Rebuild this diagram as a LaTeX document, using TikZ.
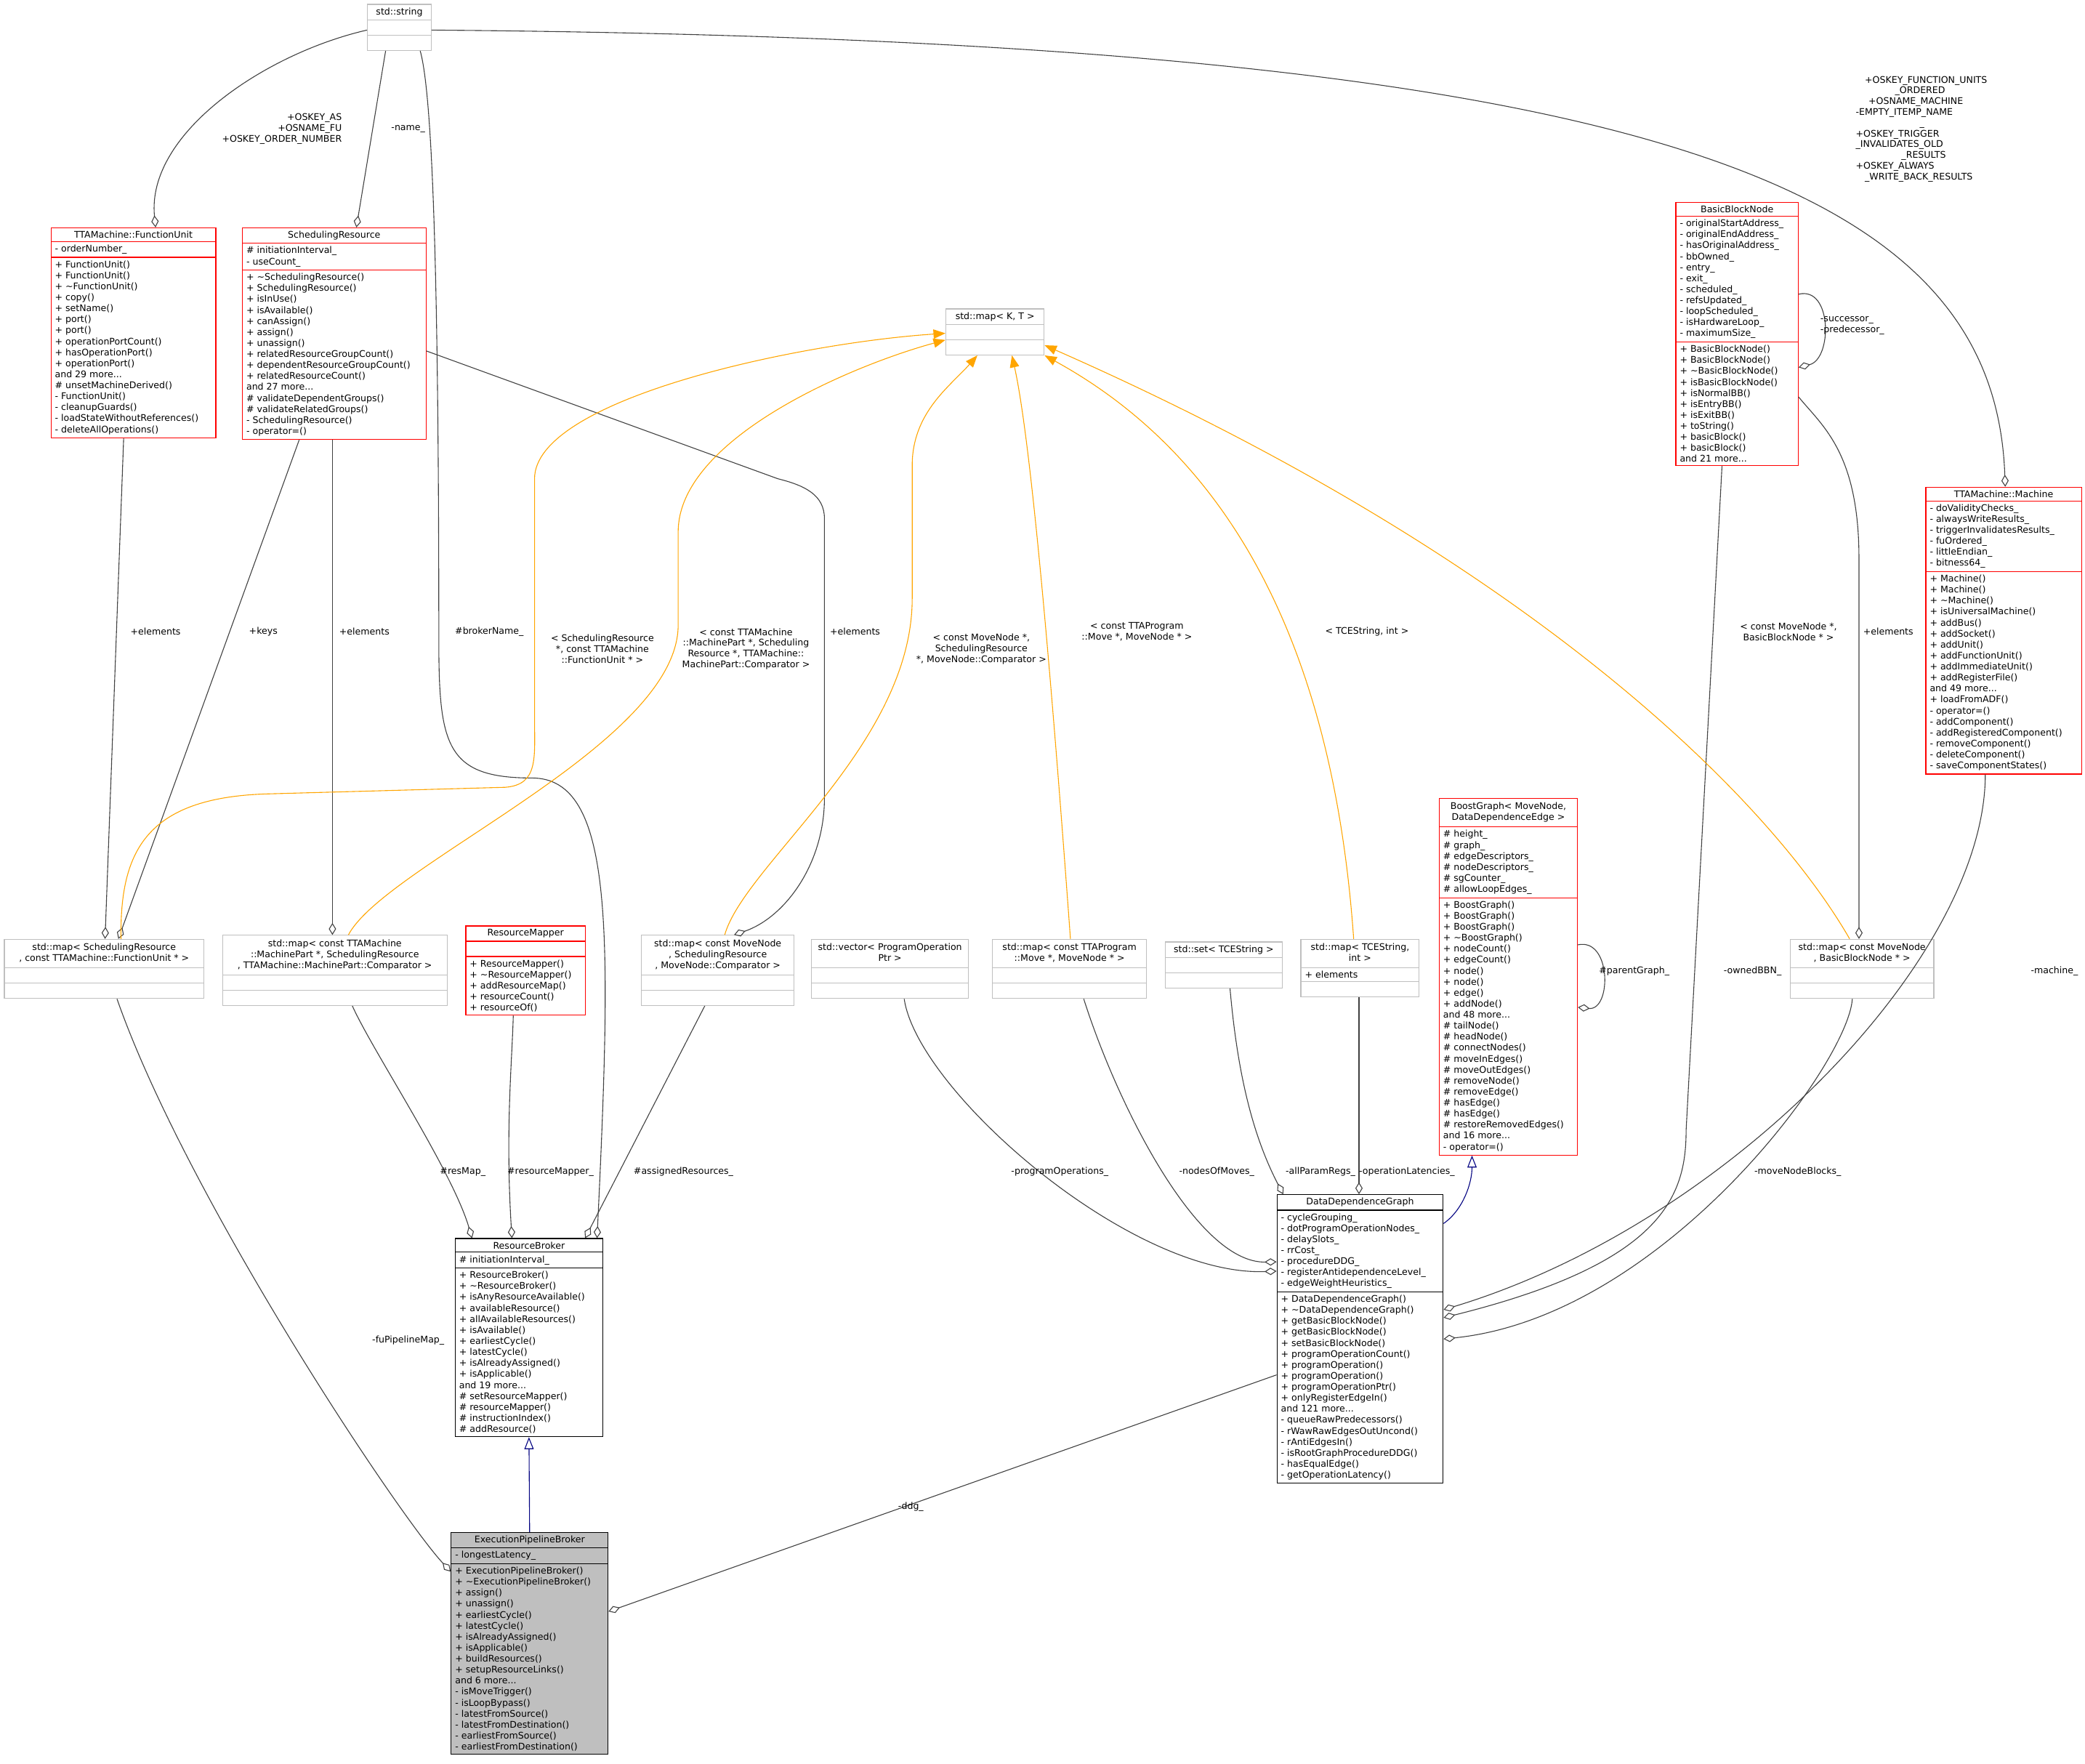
\documentclass[tikz,border=0pt]{standalone}
\usepackage{fontspec}
\setmainfont{DejaVu Sans}
\usetikzlibrary{shapes.multipart,arrows.meta,calc}

\definecolor{tplorange}{HTML}{FFA500}
\newcommand{\ttl}[1]{\begin{tabular}{@{}c@{}}#1\end{tabular}}
\newcommand{\nil}{\rule{0pt}{6.5bp}}

\tikzset{
  cls/.style={rectangle split, rectangle split parts=3, draw=black,
    rectangle split part align={center,left,left},
    font=\fontsize{6.9}{8.3}\selectfont, align=left,
    inner xsep=3bp, inner ysep=2.2bp, anchor=north west, line width=0.6bp},
  redcls/.style={cls, draw=red},
  graycls/.style={cls, draw=black!25},
  lbl/.style={font=\fontsize{6.9}{8.1}\selectfont, align=center, inner sep=0.5bp},
  agg/.style={draw=black!75, line width=0.6bp, {Diamond[open,length=9bp,width=5.5bp]}-},
  inh/.style={draw=blue!50!black, line width=0.6bp, -{Triangle[open,length=9bp,width=7bp]}},
  tpl/.style={draw=tplorange, line width=0.6bp, -{Triangle[length=9bp,width=7bp]}}
}

\begin{document}
\begin{tikzpicture}[x=1bp,y=-1bp]
\useasboundingbox (0,0) rectangle (1568,1326);

% classes
\node[graycls, minimum width=48bp] (str) at (276,3) {std::string \nodepart{two}\nil \nodepart{three}\nil};

\node[redcls, minimum width=124bp] (fu) at (38,171) {TTAMachine::FunctionUnit
 \nodepart{two}- orderNumber\_
 \nodepart{three}+ FunctionUnit()\\+ FunctionUnit()\\+ \textasciitilde FunctionUnit()\\+ copy()\\+ setName()\\+ port()\\+ port()\\+ operationPortCount()\\+ hasOperationPort()\\+ operationPort()\\and 29 more...\\\# unsetMachineDerived()\\- FunctionUnit()\\- cleanupGuards()\\- loadStateWithoutReferences()\\- deleteAllOperations()};

\node[redcls, minimum width=138bp] (sr) at (182,171) {SchedulingResource
 \nodepart{two}\# initiationInterval\_\\- useCount\_
 \nodepart{three}+ \textasciitilde SchedulingResource()\\+ SchedulingResource()\\+ isInUse()\\+ isAvailable()\\+ canAssign()\\+ assign()\\+ unassign()\\+ relatedResourceGroupCount()\\+ dependentResourceGroupCount()\\+ relatedResourceCount()\\and 27 more...\\\# validateDependentGroups()\\\# validateRelatedGroups()\\- SchedulingResource()\\- operator=()};

\node[graycls, minimum width=74bp] (mapkt) at (711,232) {std::map\textless{} K, T \textgreater{} \nodepart{two}\nil \nodepart{three}\nil};

\node[redcls, minimum width=92bp] (bbn) at (1260,152) {BasicBlockNode
 \nodepart{two}- originalStartAddress\_\\- originalEndAddress\_\\- hasOriginalAddress\_\\- bbOwned\_\\- entry\_\\- exit\_\\- scheduled\_\\- refsUpdated\_\\- loopScheduled\_\\- isHardwareLoop\_\\- maximumSize\_
 \nodepart{three}+ BasicBlockNode()\\+ BasicBlockNode()\\+ \textasciitilde BasicBlockNode()\\+ isBasicBlockNode()\\+ isNormalBB()\\+ isEntryBB()\\+ isExitBB()\\+ toString()\\+ basicBlock()\\+ basicBlock()\\and 21 more...};

\node[redcls, minimum width=117bp] (mach) at (1448,366) {TTAMachine::Machine
 \nodepart{two}- doValidityChecks\_\\- alwaysWriteResults\_\\- triggerInvalidatesResults\_\\- fuOrdered\_\\- littleEndian\_\\- bitness64\_
 \nodepart{three}+ Machine()\\+ Machine()\\+ \textasciitilde Machine()\\+ isUniversalMachine()\\+ addBus()\\+ addSocket()\\+ addUnit()\\+ addFunctionUnit()\\+ addImmediateUnit()\\+ addRegisterFile()\\and 49 more...\\+ loadFromADF()\\- operator=()\\- addComponent()\\- addRegisteredComponent()\\- removeComponent()\\- deleteComponent()\\- saveComponentStates()};

\node[redcls, minimum width=104bp] (bgr) at (1082,600) {\ttl{BoostGraph\textless{} MoveNode,\\ DataDependenceEdge \textgreater}
 \nodepart{two}\# height\_\\\# graph\_\\\# edgeDescriptors\_\\\# nodeDescriptors\_\\\# sgCounter\_\\\# allowLoopEdges\_
 \nodepart{three}+ BoostGraph()\\+ BoostGraph()\\+ BoostGraph()\\+ \textasciitilde BoostGraph()\\+ nodeCount()\\+ edgeCount()\\+ node()\\+ node()\\+ edge()\\+ addNode()\\and 48 more...\\\# tailNode()\\\# headNode()\\\# connectNodes()\\\# moveInEdges()\\\# moveOutEdges()\\\# removeNode()\\\# removeEdge()\\\# hasEdge()\\\# hasEdge()\\\# restoreRemovedEdges()\\and 16 more...\\- operator=()};

\node[graycls, minimum width=150bp] (mapsf) at (3,706) {\ttl{std::map\textless{} SchedulingResource\\ *, const TTAMachine::FunctionUnit * \textgreater}
 \nodepart{two}\nil \nodepart{three}\nil};
\node[graycls, minimum width=169bp] (mapmp) at (167,703) {\ttl{std::map\textless{} const TTAMachine\\ ::MachinePart *, SchedulingResource\\ *, TTAMachine::MachinePart::Comparator \textgreater}
 \nodepart{two}\nil \nodepart{three}\nil};
\node[redcls, minimum width=90bp] (rmap) at (350,696) {ResourceMapper
 \nodepart{two}\nil
 \nodepart{three}+ ResourceMapper()\\+ \textasciitilde ResourceMapper()\\+ addResourceMap()\\+ resourceCount()\\+ resourceOf()};
\node[graycls, minimum width=115bp] (mapms) at (482,703) {\ttl{std::map\textless{} const MoveNode\\ *, SchedulingResource\\ *, MoveNode::Comparator \textgreater}
 \nodepart{two}\nil \nodepart{three}\nil};
\node[graycls, minimum width=118bp] (vecpo) at (610,706) {\ttl{std::vector\textless{} ProgramOperation\\ Ptr \textgreater}
 \nodepart{two}\nil \nodepart{three}\nil};
\node[graycls, minimum width=116bp] (mapmv) at (746,706) {\ttl{std::map\textless{} const TTAProgram\\ ::Move *, MoveNode * \textgreater}
 \nodepart{two}\nil \nodepart{three}\nil};
\node[graycls, minimum width=88bp] (settc) at (876,708) {std::set\textless{} TCEString \textgreater
 \nodepart{two}\nil \nodepart{three}\nil};
\node[graycls, minimum width=89bp] (mapti) at (978,706) {\ttl{std::map\textless{} TCEString,\\ int \textgreater}
 \nodepart{two}+ elements \nodepart{three}\nil};
\node[graycls, minimum width=108bp] (mapmb) at (1346,706) {\ttl{std::map\textless{} const MoveNode\\ *, BasicBlockNode * \textgreater}
 \nodepart{two}\nil \nodepart{three}\nil};

\node[cls, minimum width=111bp] (rb) at (342,931) {ResourceBroker
 \nodepart{two}\# initiationInterval\_
 \nodepart{three}+ ResourceBroker()\\+ \textasciitilde ResourceBroker()\\+ isAnyResourceAvailable()\\+ availableResource()\\+ allAvailableResources()\\+ isAvailable()\\+ earliestCycle()\\+ latestCycle()\\+ isAlreadyAssigned()\\+ isApplicable()\\and 19 more...\\\# setResourceMapper()\\\# resourceMapper()\\\# instructionIndex()\\\# addResource()};

\node[cls, minimum width=125bp] (ddg) at (960,898) {DataDependenceGraph
 \nodepart{two}- cycleGrouping\_\\- dotProgramOperationNodes\_\\- delaySlots\_\\- rrCost\_\\- procedureDDG\_\\- registerAntidependenceLevel\_\\- edgeWeightHeuristics\_
 \nodepart{three}+ DataDependenceGraph()\\+ \textasciitilde DataDependenceGraph()\\+ getBasicBlockNode()\\+ getBasicBlockNode()\\+ setBasicBlockNode()\\+ programOperationCount()\\+ programOperation()\\+ programOperation()\\+ programOperationPtr()\\+ onlyRegisterEdgeIn()\\and 121 more...\\- queueRawPredecessors()\\- rWawRawEdgesOutUncond()\\- rAntiEdgesIn()\\- isRootGraphProcedureDDG()\\- hasEqualEdge()\\- getOperationLatency()};

\node[cls, fill=black!25, minimum width=118bp] (epb) at (339,1152) {ExecutionPipelineBroker
 \nodepart{two}- longestLatency\_
 \nodepart{three}+ ExecutionPipelineBroker()\\+ \textasciitilde ExecutionPipelineBroker()\\+ assign()\\+ unassign()\\+ earliestCycle()\\+ latestCycle()\\+ isAlreadyAssigned()\\+ isApplicable()\\+ buildResources()\\+ setupResourceLinks()\\and 6 more...\\- isMoveTrigger()\\- isLoopBypass()\\- latestFromSource()\\- latestFromDestination()\\- earliestFromSource()\\- earliestFromDestination()};

% members
\draw[agg] ($(fu.north west)+(79,0)$) .. controls (110,100) and (200,40) .. ($(str.west)+(0,2)$);
\draw[agg] ($(sr.north west)+(86,0)$) -- ($(str.south west)+(14,0)$);
\draw[agg] ($(rb.north west)+(107,0)$) .. controls (460,700) and (462,585) .. (400,585)
  .. controls (335,585) and (330,560) .. (330,480) .. controls (330,200) and (325,70) .. ($(str.south west)+(40,0)$);
\draw[agg] ($(mach.north west)+(60,0)$) .. controls (1500,140) and (1250,30) .. ($(str.east)+(0,2)$);
\draw[agg] ($(mapsf.north west)+(76,0)$) -- ($(fu.south west)+(55,0)$);
\draw[agg] ($(mapsf.north west)+(86,0)$) -- ($(sr.south west)+(43,0)$);
\draw[agg] ($(mapmp.north west)+(83,0)$) -- ($(sr.south west)+(68,0)$);
\draw[agg] ($(mapms.north west)+(70,0)$) .. controls (590,690) and (620,650) .. (620,600) -- (620,390)
  .. controls (620,372) and (605,365) .. (585,360) -- ($(sr.east)+(0,13)$);
\draw[agg] ($(epb.west)+(0,-54)$) .. controls (300,1140) and (140,900) .. ($(mapsf.south west)+(85,0)$);
\draw[agg] ($(rb.north west)+(13,0)$) .. controls (340,880) and (280,790) .. ($(mapmp.south west)+(98,0)$);
\draw[agg] ($(rb.north west)+(43,0)$) .. controls (380,850) and (385,800) .. ($(rmap.south west)+(36,0)$);
\draw[agg] ($(rb.north west)+(98,0)$) -- ($(mapms.south west)+(48,0)$);
\draw[agg] ($(epb.east)+(0,-24)$) -- ($(ddg.west)+(0,27)$);
\draw[agg] ($(ddg.west)+(0,-51)$) .. controls (850,960) and (690,820) .. ($(vecpo.south west)+(70,0)$);
\draw[agg] ($(ddg.west)+(0,-58)$) .. controls (900,950) and (840,830) .. ($(mapmv.south west)+(69,0)$);
\draw[agg] ($(ddg.north west)+(5,0)$) .. controls (940,850) and (930,800) .. ($(settc.south west)+(49,0)$);
\draw[agg] ($(ddg.north west)+(62,0)$) -- ($(mapti.south west)+(44,0)$);
\draw[agg] ($(bgr.east)+(0,23)$) .. controls (1212,760) and (1212,705) .. ($(bgr.east)+(0,-24)$);
\draw[agg] ($(ddg.east)+(0,-16)$) .. controls (1250,950) and (1268,900) .. (1268,850) -- ($(bbn.south west)+(35,0)$);
\draw[agg] ($(bbn.east)+(0,25)$) .. controls (1378,270) and (1378,215) .. ($(bbn.east)+(0,-30)$);
\draw[agg] ($(mapmb.north west)+(52,0)$) -- (1398,420) .. controls (1398,340) and (1370,320) .. ($(bbn.south east)+(0,-52)$);
\draw[agg] (ddg.east) .. controls (1250,990) and (1390,800) .. ($(mapmb.south west)+(47,0)$);
\draw[agg] ($(ddg.east)+(0,-22)$) .. controls (1300,920) and (1493,720) .. ($(mach.south west)+(45,0)$);

% inheritance
\draw[inh] (epb.north) -- (rb.south);
\draw[inh] ($(ddg.north east)+(0,22)$) .. controls (1100,910) and (1107,890) .. ($(bgr.south west)+(25,0)$);

% template instances
\draw[tpl] ($(mapsf.north west)+(88,0)$) .. controls (90,640) and (110,600) .. (200,597) -- (380,592)
  .. controls (405,590) and (402,570) .. (402,540) -- (402,360) .. controls (402,300) and (600,258) .. ($(mapkt.west)+(0,1)$);
\draw[tpl] ($(mapmp.north west)+(95,0)$) .. controls (290,650) and (510,560) .. (510,470) -- (510,400)
  .. controls (510,330) and (640,275) .. ($(mapkt.west)+(0,6)$);
\draw[tpl] ($(mapms.north west)+(63,0)$) .. controls (560,650) and (686,560) .. (686,450) -- (686,350)
  .. controls (686,310) and (715,290) .. ($(mapkt.south west)+(24,0)$);
\draw[tpl] ($(mapmv.north west)+(59,0)$) .. controls (790,500) and (775,330) .. ($(mapkt.south west)+(50,0)$);
\draw[tpl] ($(mapti.north west)+(40,0)$) .. controls (1000,450) and (900,330) .. (mapkt.south east);
\draw[tpl] ($(mapmb.north west)+(45,0)$) .. controls (1330,600) and (1150,420) .. ($(mapkt.east)+(0,10)$);

% labels
\node[lbl, align=right] (lfu) at (212,97) {+OSKEY\_AS\\+OSNAME\_FU\\+OSKEY\_ORDER\_NUMBER};
\node[lbl] (lname) at (307,97) {-name\_};
\node[lbl, align=left] (lmach) at (1445,97) {\quad+OSKEY\_FUNCTION\_UNITS\\\hspace{4.3em}\_ORDERED\\\hspace{1.4em}+OSNAME\_MACHINE\\-EMPTY\_ITEMP\_NAME\\\hspace{7em}\_\\+OSKEY\_TRIGGER\\\_INVALIDATES\_OLD\\\hspace{5em}\_RESULTS\\+OSKEY\_ALWAYS\\\quad\_WRITE\_BACK\_RESULTS};
\node[lbl] (lel1) at (117,475) {+elements};
\node[lbl] (lkeys) at (198,475) {+keys};
\node[lbl] (lel2) at (274,475) {+elements};
\node[lbl] (lbn) at (368,475) {\#brokerName\_};
\node[lbl] (lt1) at (453,488) {\textless{} SchedulingResource\\*, const TTAMachine\\::FunctionUnit * \textgreater};
\node[lbl] (lt2) at (561,488) {\textless{} const TTAMachine\\::MachinePart *, Scheduling\\Resource *, TTAMachine::\\MachinePart::Comparator \textgreater};
\node[lbl] (lel3) at (643,475) {+elements};
\node[lbl] (lt3) at (738,488) {\textless{} const MoveNode *,\\SchedulingResource\\*, MoveNode::Comparator \textgreater};
\node[lbl] (lt4) at (855,475) {\textless{} const TTAProgram\\::Move *, MoveNode * \textgreater};
\node[lbl] (lt5) at (1028,475) {\textless{} TCEString, int \textgreater};
\node[lbl] (lt6) at (1345,475) {\textless{} const MoveNode *,\\BasicBlockNode * \textgreater};
\node[lbl] (lel4) at (1420,475) {+elements};
\node[lbl, align=left] (lsp) at (1393,245) {-successor\_\\-predecessor\_};
\node[lbl] (lpg) at (1229,730) {\#parentGraph\_};
\node[lbl] (lobb) at (1318,730) {-ownedBBN\_};
\node[lbl] (lmc) at (1545,730) {-machine\_};
\node[lbl] (lrm) at (348,881) {\#resMap\_};
\node[lbl] (lrmp) at (414,881) {\#resourceMapper\_};
\node[lbl] (lar) at (514,881) {\#assignedResources\_};
\node[lbl] (lpo) at (797,881) {-programOperations\_};
\node[lbl] (lnm) at (915,881) {-nodesOfMoves\_};
\node[lbl] (lapr) at (993,881) {-allParamRegs\_};
\node[lbl] (lol) at (1058,881) {-operationLatencies\_};
\node[lbl] (lmnb) at (1352,881) {-moveNodeBlocks\_};
\node[lbl] (lfpm) at (307,1008) {-fuPipelineMap\_};
\node[lbl] (lddg) at (685,1133) {-ddg\_};
\end{tikzpicture}
\end{document}
